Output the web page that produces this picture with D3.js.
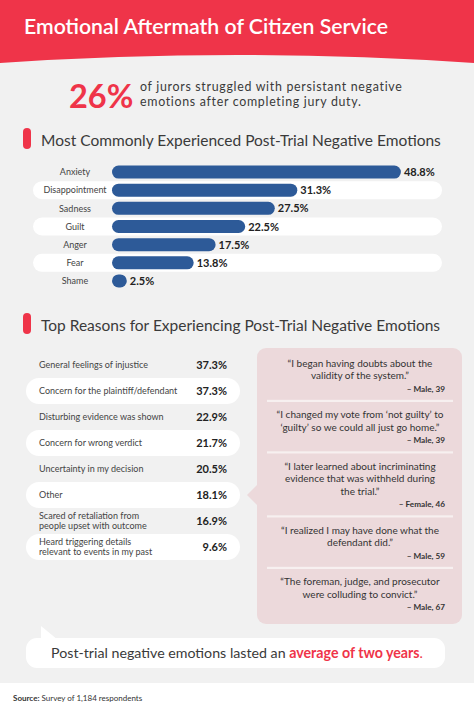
<!DOCTYPE html>
<html><head><meta charset="utf-8">
<script src="https://cdn.jsdelivr.net/npm/d3@7/dist/d3.min.js"></script>
<style>html,body{margin:0;padding:0;background:#fff;}svg{display:block;font-family:Lato,"Open Sans",sans-serif;}</style>
</head><body><div id="chart"></div>
<script>
const emotions = ["Anxiety","Disappointment","Sadness","Guilt","Anger","Fear","Shame"];
const emotionValues = [48.8,31.3,27.5,22.5,17.5,13.8,2.5];
const reasons = [["General feelings of injustice"],["Concern for the plaintiff/defendant"],["Disturbing evidence was shown"],["Concern for wrong verdict"],["Uncertainty in my decision"],["Other"],["Scared of retaliation from","people upset with outcome"],["Heard triggering details","relevant to events in my past"]];
const reasonValues = [37.3,37.3,22.9,21.7,20.5,18.1,16.9,9.6];
const quotes = [["\u201cI began having doubts about the","validity of the system.\u201d"],["\u201cI changed my vote from \u2018not guilty\u2019 to","\u2018guilty\u2019 so we could all just go home.\u201d"],["\u201cI later learned about incriminating","evidence that was withheld during","the trial.\u201d"],["\u201cI realized I may have done what the","defendant did.\u201d"],["\u201cThe foreman, judge, and prosecutor","were colluding to convict.\u201d"]];
const quoteAuthors = ["\u2013 Male, 39","\u2013 Male, 39","\u2013 Female, 46","\u2013 Male, 59","\u2013 Male, 67"];

const W=474,H=711;
const RED="#ef3449", BLUE="#2d5a98", GRAY="#f1f1f1", PINK="#ecd9db", TXT="#3a3a3a";
const svg=d3.select("#chart").append("svg").attr("width",W).attr("height",H);
function fit(sel,target){
  const fs=+sel.attr("font-size"), w=sel.node().getComputedTextLength();
  if(w>0) sel.attr("font-size",(fs*target/w).toFixed(2));
  return sel;
}
function spread(sel,target){
  const w=sel.node().getComputedTextLength(), n=sel.text().length;
  if(w>0&&n>1) sel.attr("letter-spacing",((target-w)/(n-1)).toFixed(3));
  return sel;
}
svg.append("rect").attr("width",W).attr("height",H).attr("fill","#fff");
svg.append("rect").attr("y",40).attr("width",W).attr("height",643).attr("fill",GRAY);
svg.append("path").attr("d","M0,0H474V63Q237,47 0,63Z").attr("fill",RED);
fit(svg.append("text").attr("x",24).attr("y",34).attr("fill","#fff").attr("font-size",21).attr("font-weight",600).text("Emotional Aftermath of Citizen Service"),364);

svg.append("text").attr("x",69).attr("y",108).attr("fill",RED).attr("font-size",32.5).attr("font-weight",700).text("26%");
const i1=svg.append("text").attr("x",140).attr("y",91).attr("fill",TXT).attr("font-size",12.4).text("of jurors struggled with persistant negative");
const i2=svg.append("text").attr("x",140).attr("y",106).attr("fill",TXT).attr("font-size",12.4).text("emotions after completing jury duty.");
spread(i1,262); i2.attr("letter-spacing",i1.attr("letter-spacing"));

function heading(y,txt){
  svg.append("rect").attr("x",23).attr("y",y-18).attr("width",8).attr("height",21).attr("rx",4).attr("fill",RED);
  svg.append("text").attr("x",41).attr("y",y).attr("fill",TXT).attr("font-size",15.5).text(txt);
}
heading(146,"Most Commonly Experienced Post-Trial Negative Emotions");
heading(331,"Top Reasons for Experiencing Post-Trial Negative Emotions");

// Bar chart
const x=d3.scaleLinear().domain([0,50]).range([112,408]);
const y=d3.scaleBand().domain(emotions).range([163,290]);
const eg=svg.append("g");
emotions.forEach((e,i)=>{
  const cy=y(e)+y.bandwidth()/2;
  if(i%2===1) eg.append("rect").attr("x",33).attr("y",cy-9).attr("width",409).attr("height",18).attr("rx",9).attr("fill","#fff");
});
emotions.forEach((e,i)=>{
  const cy=y(e)+y.bandwidth()/2, v=emotionValues[i];
  const w=Math.max(x(v)-x(0),13);
  eg.append("text").attr("x",75).attr("y",cy+3.2).attr("text-anchor","middle").attr("font-size",9).attr("fill","#444").text(e);
  eg.append("rect").attr("x",x(0)).attr("y",cy-6.5).attr("width",w).attr("height",13).attr("rx",6.5).attr("fill",BLUE);
  eg.append("text").attr("x",x(0)+w+3).attr("y",cy+4).attr("font-size",11).attr("font-weight",700).attr("fill","#222").text(v.toFixed(1)+"%");
});

// Reasons table
const ry=d3.scaleBand().domain(d3.range(reasons.length)).range([352,560]);
const rg=svg.append("g");
reasons.forEach((r,i)=>{
  const cy=ry(i)+ry.bandwidth()/2;
  if(i%2===1) rg.append("rect").attr("x",26).attr("y",cy-13).attr("width",214).attr("height",26).attr("rx",13).attr("fill","#fff");
  const t=rg.append("text").attr("font-size",9).attr("fill","#444");
  const n=r.length;
  r.forEach((line,j)=>t.append("tspan").attr("x",39).attr("y",cy+3.2+(j-(n-1)/2)*9.6).text(line));
  rg.append("text").attr("x",227).attr("y",cy+4).attr("text-anchor","end").attr("font-size",11).attr("font-weight",700).attr("fill","#222").text(reasonValues[i].toFixed(1)+"%");
});

// Quote box
const qg=svg.append("g");
qg.append("rect").attr("x",257).attr("y",348).attr("width",205).attr("height",276).attr("rx",9).attr("fill",PINK);
qg.append("path").attr("d","M258,484L247,495L258,506Z").attr("fill",PINK);
let yy=363.3;
quotes.forEach((q,i)=>{
  const t=qg.append("text").attr("text-anchor","middle").attr("font-size",10).attr("fill","#333");
  q.forEach((line,j)=>{t.append("tspan").attr("x",360).attr("y",yy+3.5).text(line); if(j<q.length-1) yy+=12.5;});
  yy+=13;
  qg.append("text").attr("x",445).attr("y",yy+3).attr("text-anchor","end").attr("font-size",8.2).attr("font-weight",700).attr("fill","#333").text(quoteAuthors[i]);
  if(i<quotes.length-1){
    yy+=12;
    qg.append("rect").attr("x",267).attr("y",yy-1).attr("width",186).attr("height",2.2).attr("fill","#f7f0f0");
    yy+=14;
  }
});

// Bottom callout
svg.append("path").attr("d","M41,626L41,642L58,640Z").attr("fill","#fff");
svg.append("rect").attr("x",26).attr("y",638).attr("width",419).attr("height",30).attr("rx",11).attr("fill","#fff");
const ct=svg.append("text").attr("x",237).attr("y",658).attr("text-anchor","middle").attr("font-size",14).attr("fill",TXT);
ct.append("tspan").text("Post-trial negative emotions lasted an ");
ct.append("tspan").attr("fill",RED).attr("font-weight",700).text("average of two years");
ct.append("tspan").attr("fill",RED).text(".");
fit(ct,372);

const st=svg.append("text").attr("x",13).attr("y",701).attr("font-size",8).attr("fill","#333");
st.append("tspan").attr("font-weight",700).text("Source:");
st.append("tspan").text(" Survey of 1,184 respondents");
</script></body></html>
